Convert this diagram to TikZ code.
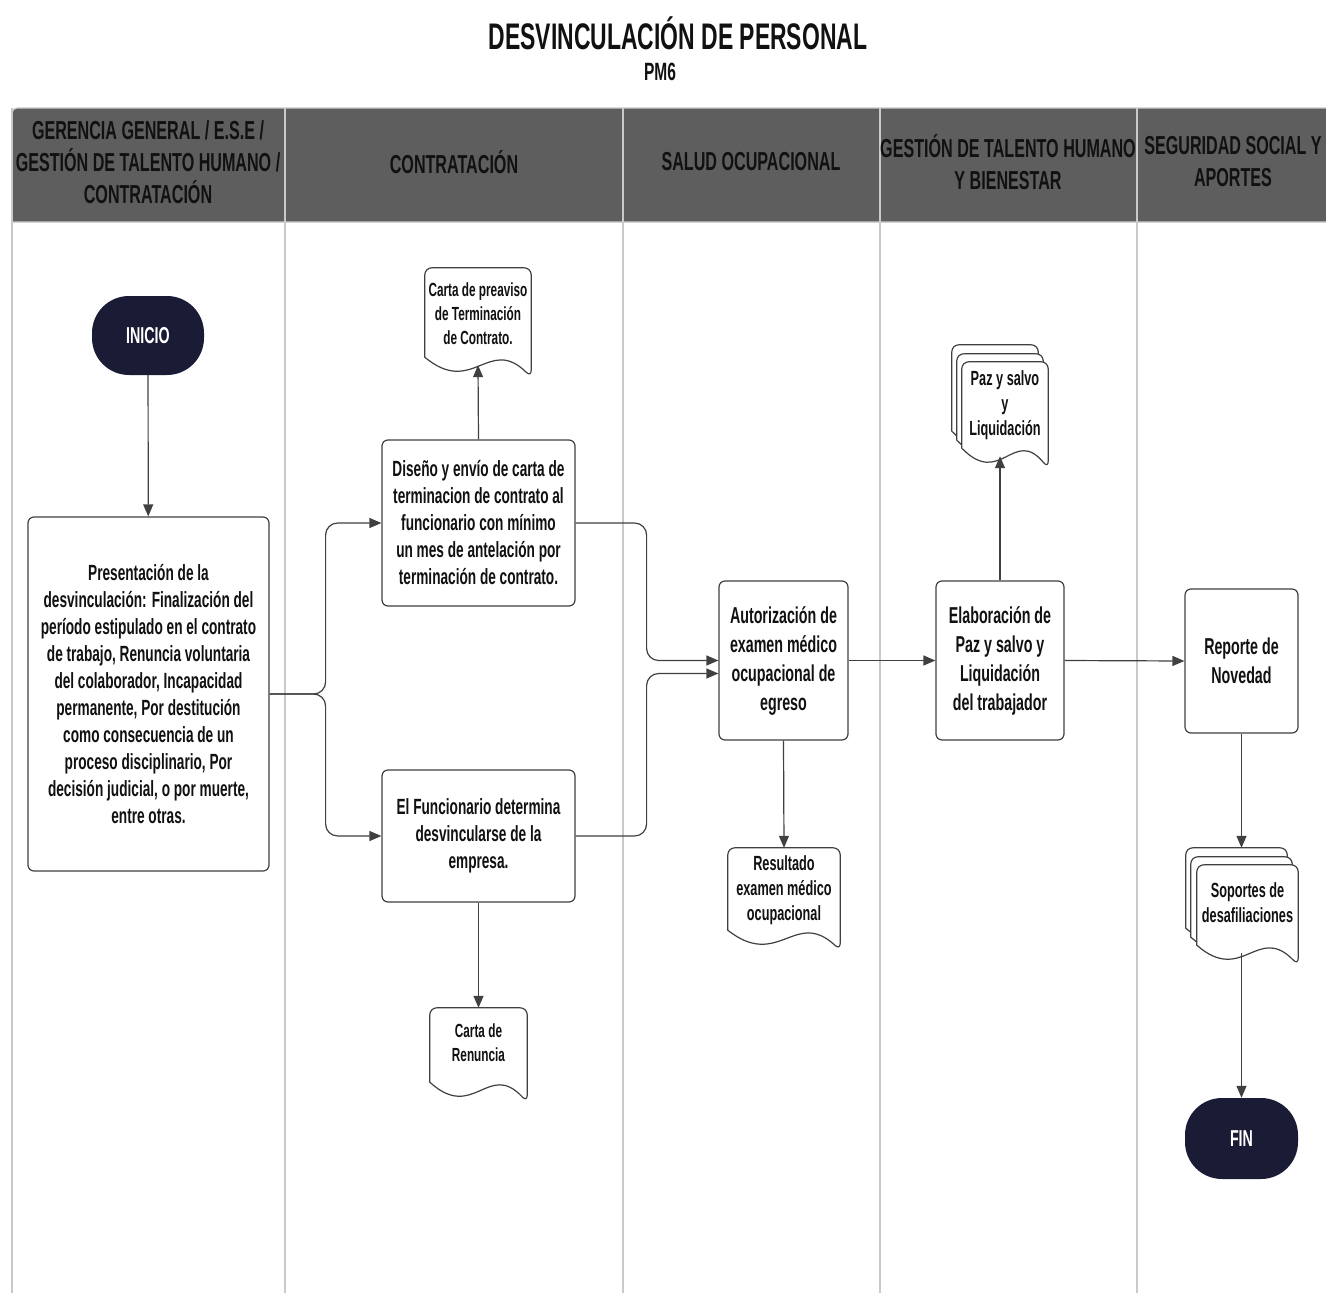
\documentclass[tikz,border=0pt]{standalone}
\usepackage{fontspec}
\newfontfamily\cond{Liberation Sans}[FakeStretch=0.62]
\usetikzlibrary{calc,arrows.meta}

\definecolor{lanegray}{HTML}{C9C9C9}
\definecolor{headfill}{HTML}{5E5E5E}
\definecolor{ink}{HTML}{111111}
\definecolor{wire}{HTML}{404040}
\definecolor{navy}{HTML}{1A1B35}

\tikzset{
  txt/.style={font=\cond\bfseries\fontsize{22}{27}\selectfont, text=ink, align=center, inner sep=0pt},
  headtxt/.style={txt, font=\cond\bfseries\fontsize{26}{32}\selectfont},
  proc/.style={txt, draw=wire, line width=1.2pt, rounded corners=6pt, fill=white},
  bigproc/.style={proc, font=\cond\bfseries\fontsize{23}{29}\selectfont},
  term/.style={txt, fill=navy, text=white, rounded corners=37pt, font=\cond\bfseries\fontsize{23}{27}\selectfont},
  docbox/.style={txt, font=\cond\bfseries\fontsize{19}{24}\selectfont},
  bigdoc/.style={txt, font=\cond\bfseries\fontsize{20.5}{25}\selectfont},
  docline/.style={draw=wire, line width=1.2pt, fill=white},
  flow/.style={draw=wire, line width=1.2pt, -{Triangle[length=12pt,width=10pt]}},
  lane/.style={draw=lanegray, line width=1.2pt},
}

% document outline around node #1, offset by (#2,#3)
\newcommand\docpath[3]{%
  ($(#1.south west)+(#2,#3-8)$) [rounded corners=7pt]
  |- ($(#1.north)+(#2,#3)$)
  -| ($(#1.south east)+(#2,#3+12)$) [sharp corners]
  .. controls ($(#1.south west)!0.6!(#1.south east)+(#2,#3-30)$)
  and ($(#1.south west)!0.45!(#1.south east)+(#2,#3+32)$)
  .. ($(#1.south west)+(#2,#3-8)$) -- cycle}

\begin{document}
\begin{tikzpicture}[x=1pt,y=-1pt]
\useasboundingbox (0,0) rectangle (1326,1293);

% title
\node[txt, font=\cond\bfseries\fontsize{37}{40}\selectfont] (title) at (678,33) {DESVINCULACIÓN DE PERSONAL};
\node[txt, font=\cond\bfseries\fontsize{25}{28}\selectfont] (code) at (660,72) {PM6};

% swimlane header and lane separators
\draw[lanegray, fill=headfill, line width=1.2pt, rounded corners=5pt] (12,222) |- (1340,108) |- (12,222);
\foreach \lx in {12,285,623,880,1137}
  \draw[lane] (\lx,108) -- (\lx,1293);
\node[headtxt] (h1) at (148,162) {GERENCIA GENERAL / E.S.E /\\GESTIÓN DE TALENTO HUMANO /\\CONTRATACIÓN};
\node[headtxt] (h2) at (454,162) {CONTRATACIÓN};
\node[headtxt] (h3) at (751,162) {SALUD OCUPACIONAL};
\node[headtxt] (h4) at (1008,162) {GESTIÓN DE TALENTO HUMANO\\Y BIENESTAR};
\node[headtxt] (h5) at (1233,162) {SEGURIDAD SOCIAL Y\\APORTES};

% process steps
\node[term, minimum width=112pt, minimum height=79pt] (inicio) at (148,335.5) {INICIO};
\node[proc, minimum width=241pt, minimum height=354pt] (pres) at (148.5,694)
  {Presentación de la\\desvinculación: Finalización del\\período estipulado en el contrato\\de trabajo, Renuncia voluntaria\\del colaborador, Incapacidad\\permanente, Por destitución\\como consecuencia de un\\proceso disciplinario, Por\\decisión judicial, o por muerte,\\entre otras.};
\node[proc, minimum width=193pt, minimum height=166pt] (diseno) at (478.5,523)
  {Diseño y envío de carta de\\terminacion de contrato al\\funcionario con mínimo\\un mes de antelación por\\terminación de contrato.};
\node[proc, minimum width=193pt, minimum height=132pt] (func) at (478.5,836)
  {El Funcionario determina\\desvincularse de la\\empresa.};
\node[bigproc, minimum width=129pt, minimum height=159pt] (aut) at (783.5,660.5)
  {Autorización de\\examen médico\\ocupacional de\\egreso};
\node[bigproc, minimum width=128pt, minimum height=159pt] (elab) at (1000,660.5)
  {Elaboración de\\Paz y salvo y\\Liquidación\\del trabajador};
\node[bigproc, minimum width=113pt, minimum height=144pt] (rep) at (1241.5,661)
  {Reporte de\\Novedad};
\node[term, minimum width=113pt, minimum height=81pt] (fin) at (1241.5,1138.5) {FIN};

% documents
\node[docbox, minimum width=106pt, minimum height=97pt] (carta) at (478,316.5) {};
\node[docbox, minimum width=97pt, minimum height=82pt] (renuncia) at (478.5,1049) {};
\node[docbox, minimum width=112pt, minimum height=90pt] (result) at (784,893) {};
\node[docbox, minimum width=86pt, minimum height=94pt] (paz) at (1005,409) {};
\node[docbox, minimum width=101pt, minimum height=88pt] (sop) at (1247.5,909) {};

\draw[docline] \docpath{carta}{0}{0};
\draw[docline] \docpath{renuncia}{0}{0};
\draw[docline] \docpath{result}{0}{0};
\draw[docline] \docpath{paz}{-10}{-17};
\draw[docline] \docpath{paz}{-5}{-8};
\draw[docline] \docpath{paz}{0}{0};
\draw[docline] \docpath{sop}{-11}{-17};
\draw[docline] \docpath{sop}{-6}{-8};
\draw[docline] \docpath{sop}{0}{0};

\node[docbox] at ($(carta)+(0,-3)$) {Carta de preaviso\\de Terminación\\de Contrato.};
\node[docbox] at ($(renuncia)+(0,-6)$) {Carta de\\Renuncia};
\node[bigdoc] at ($(result)+(0,-3)$) {Resultado\\examen médico\\ocupacional};
\node[bigdoc] at ($(paz)+(0,-4)$) {Paz y salvo\\y\\Liquidación};
\node[bigdoc] at ($(sop)+(0,-6)$) {Soportes de\\desafiliaciones};

% connectors
\coordinate (autlow) at ($(aut.west)+(0,13)$);
\coordinate (sopback) at ($(sop.north)+(-6,-17)$);
\draw[flow] (inicio) -- (pres);
\draw[flow, rounded corners=12pt] (pres.east) -- ++(56,0) |- (diseno.west);
\draw[flow, rounded corners=12pt] (pres.east) -- ++(56,0) |- (func.west);
\draw[flow] (diseno.north) -- (carta.south);
\draw[flow] (func.south) -- (renuncia.north);
\draw[flow, rounded corners=12pt] (diseno.east) -- ++(71,0) |- (aut.west);
\draw[flow, rounded corners=12pt] (func.east) -- ++(71,0) |- (autlow);
\draw[flow] (aut.south) -- (result.north);
\draw[flow] (aut.east) -- (elab.west);
\draw[flow] (elab.north) -- (elab.north |- paz.south);
\draw[flow] (elab.east) -- (rep.west);
\draw[flow] (rep.south) -- (rep.south |- sopback);
\draw[flow] (fin.north |- sop.south) -- (fin.north);
\end{tikzpicture}
\end{document}
